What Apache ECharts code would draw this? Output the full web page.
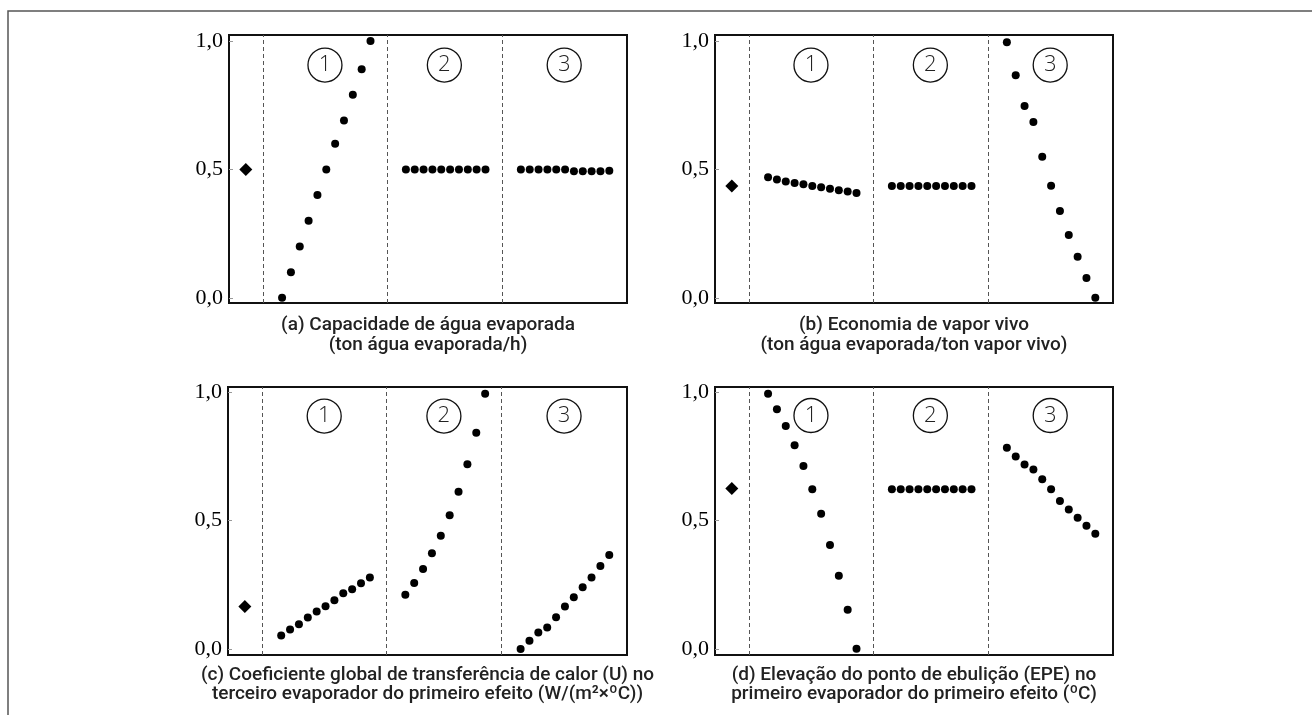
<!DOCTYPE html>
<html>
<head>
<meta charset="utf-8">
<script src="https://cdn.jsdelivr.net/npm/echarts@6/dist/echarts.min.js"></script>
<style>html,body{margin:0;padding:0;background:#fff}#c{width:1312px;height:715px}</style>
</head>
<body>
<div id="c"></div>
<script>
// x positions (run index) of each group
const xBase = [1.9];
const xSeg1 = [6,7,8,9,10,11,12,13,14,15,16];
const xSeg2 = [20,21,22,23,24,25,26,27,28,29];
const xSeg3 = [33,34,35,36,37,38,39,40,41,42,43];
const dividers = [3.84, 17.85, 30.85];
const regionCenters = [10.85, 24.35, 37.9];
const regionLabels = ['1','2','3'];
const yTicks = [0, 0.5, 1];

// (a) Capacidade de água evaporada
const aBase = [0.5];
const aSeg1 = [0, 0.1, 0.2, 0.3, 0.4, 0.5, 0.6, 0.69, 0.79, 0.89, 1.0];
const aSeg2 = [0.5, 0.5, 0.5, 0.5, 0.5, 0.5, 0.5, 0.5, 0.5, 0.5];
const aSeg3 = [0.5, 0.5, 0.5, 0.5, 0.5, 0.5, 0.493, 0.493, 0.493, 0.493, 0.495];
// (b) Economia de vapor vivo
const bBase = [0.435];
const bSeg1 = [0.469, 0.461, 0.453, 0.447, 0.442, 0.435, 0.430, 0.425, 0.419, 0.414, 0.408];
const bSeg2 = [0.435, 0.435, 0.435, 0.435, 0.435, 0.435, 0.435, 0.435, 0.435, 0.435];
const bSeg3 = [0.995, 0.866, 0.747, 0.684, 0.549, 0.436, 0.338, 0.245, 0.160, 0.077, 0.0];
// (c) Coeficiente global de transferência de calor
const cBase = [0.166];
const cSeg1 = [0.053, 0.076, 0.097, 0.123, 0.146, 0.167, 0.190, 0.217, 0.233, 0.256, 0.279];
const cSeg2 = [0.211, 0.257, 0.312, 0.373, 0.441, 0.521, 0.612, 0.719, 0.842, 0.994];
const cSeg3 = [0.0, 0.032, 0.065, 0.084, 0.124, 0.166, 0.202, 0.241, 0.279, 0.323, 0.366];
// (d) Elevação do ponto de ebulição
const dBase = [0.625];
const dSeg1 = [0.994, 0.933, 0.868, 0.793, 0.713, 0.622, 0.527, 0.405, 0.285, 0.153, 0.001];
const dSeg2 = [0.622, 0.622, 0.622, 0.622, 0.622, 0.622, 0.622, 0.622, 0.622, 0.622];
const dSeg3 = [0.784, 0.750, 0.718, 0.699, 0.661, 0.622, 0.576, 0.543, 0.511, 0.480, 0.449];

const captions = [
  ['(a) Capacidade de água evaporada', '(ton água evaporada/h)'],
  ['(b) Economia de vapor vivo', '(ton água evaporada/ton vapor vivo)'],
  ['(c) Coeficiente global de transferência de calor (U) no', 'terceiro evaporador do primeiro efeito (W/(m²×ºC))'],
  ['(d) Elevação do ponto de ebulição (EPE) no', 'primeiro evaporador do primeiro efeito (ºC)']
];

const panels = [
  {base:aBase, s1:aSeg1, s2:aSeg2, s3:aSeg3, grid:{left:229, top:35, width:398, height:268}, ymin:-0.02, ymax:1.023, labelY:0.906, capGap:12.5},
  {base:bBase, s1:bSeg1, s2:bSeg2, s3:bSeg3, grid:{left:715, top:35, width:398, height:268}, ymin:-0.02, ymax:1.023, labelY:0.906, capGap:12.5},
  {base:cBase, s1:cSeg1, s2:cSeg2, s3:cSeg3, grid:{left:228, top:387, width:399, height:268}, ymin:-0.023, ymax:1.02, labelY:0.907, capGap:10},
  {base:dBase, s1:dSeg1, s2:dSeg2, s3:dSeg3, grid:{left:715, top:387, width:398, height:268}, ymin:-0.023, ymax:1.02, labelY:0.909, capGap:10}
];

const zip = (xs, ys) => xs.map((x, i) => [x, ys[i]]);

const grids = [], xAxes = [], yAxes = [], series = [], graphics = [];
panels.forEach((p, i) => {
  grids.push(Object.assign({show:true, borderColor:'#111', borderWidth:2, backgroundColor:'#fff'}, p.grid));
  xAxes.push({type:'value', gridIndex:i, min:0, max:45, show:false});
  yAxes.push({
    type:'value', gridIndex:i, min:p.ymin, max:p.ymax,
    axisLine:{show:false}, splitLine:{show:false},
    axisTick:{show:true, inside:true, length:4, lineStyle:{color:'#999'}, customValues:yTicks},
    axisLabel:{show:true, margin:6, fontFamily:'Liberation Serif', fontSize:22, color:'#000',
      customValues:yTicks, formatter:v => v.toFixed(1).replace('.', ',')}
  });
  const dot = {type:'scatter', xAxisIndex:i, yAxisIndex:i, symbol:'circle', symbolSize:8,
    itemStyle:{color:'#000', opacity:1}, silent:true, z:5};
  series.push(Object.assign({}, dot, {data:zip(xBase, p.base), symbol:'diamond', symbolSize:13,
    markLine:{silent:true, symbol:'none', label:{show:false},
      lineStyle:{type:[4,3], color:'#555', width:1},
      data:dividers.map(d => ({xAxis:d}))}}));
  series.push(Object.assign({}, dot, {data:zip(xSeg1, p.s1)}));
  series.push(Object.assign({}, dot, {data:zip(xSeg2, p.s2)}));
  series.push(Object.assign({}, dot, {data:zip(xSeg3, p.s3)}));
  series.push({type:'scatter', xAxisIndex:i, yAxisIndex:i, silent:true, z:4,
    symbol:'circle', symbolSize:34,
    itemStyle:{color:'rgba(255,255,255,0)', borderColor:'#111', borderWidth:1.3, opacity:1},
    label:{show:true, position:'inside', formatter:q => regionLabels[q.dataIndex],
      fontFamily:'Open Sans', fontWeight:300, fontSize:22, color:'#222'},
    data:regionCenters.map(c => [c, p.labelY])});
  const cx = p.grid.left + p.grid.width / 2;
  const ty = p.grid.top + p.grid.height + p.capGap;
  graphics.push({type:'text', x:cx, y:ty, style:{text:captions[i].join('\n'),
    textAlign:'center', font:'500 19px Roboto', fill:'#222', lineHeight:19.5}});
});

graphics.push({type:'rect', shape:{x:8, y:11, width:1330, height:730}, style:{fill:'none', stroke:'#555', lineWidth:1.5}, z:-1});

const chart = echarts.init(document.getElementById('c'), null, {renderer:'canvas'});
chart.setOption({
  animation:false,
  backgroundColor:'#fff',
  grid:grids, xAxis:xAxes, yAxis:yAxes, series:series, graphic:graphics
});
</script>
</body>
</html>
